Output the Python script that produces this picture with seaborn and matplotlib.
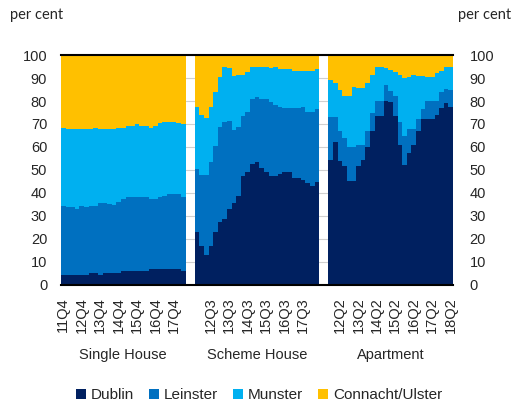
import numpy as np
import pandas as pd
import matplotlib
matplotlib.use("Agg")
import matplotlib.pyplot as plt
from matplotlib.patches import Patch
import seaborn as sns

# quarters shown in every panel
quarters = ["11Q4",
            "12Q1", "12Q2", "12Q3", "12Q4", "13Q1", "13Q2", "13Q3", "13Q4",
            "14Q1", "14Q2", "14Q3", "14Q4", "15Q1", "15Q2", "15Q3", "15Q4",
            "16Q1", "16Q2", "16Q3", "16Q4", "17Q1", "17Q2", "17Q3", "17Q4",
            "18Q1", "18Q2"]
types = ["Single House", "Scheme House", "Apartment"]
regions = ["Dublin", "Leinster", "Munster", "Connacht/Ulster"]
colors = ["#002060", "#0070C0", "#00B0F0", "#FFC000"]

# labelled quarters per panel
ticks_single = ["11Q4", "12Q4", "13Q4", "14Q4", "15Q4", "16Q4", "17Q4"]
ticks_scheme = ["12Q3", "13Q3", "14Q3", "15Q3", "16Q3", "17Q3"]
ticks_apart = ["12Q2", "13Q2", "14Q2", "15Q2", "16Q2", "17Q2", "18Q2"]

# shares (per cent)
single_dublin = [4.1, 4.1, 4.1, 4.1, 4.1, 4.1, 5.1, 5.1, 4.2, 5.1, 5.1, 5.1, 5.1, 5.8,
                 5.8, 5.8, 5.8, 5.8, 5.8, 6.8, 6.8, 6.8, 6.8, 6.8, 6.8, 6.8, 5.8]
single_leinster = [30.4, 29.7, 29.7, 28.8, 30.4, 29.7, 29.4, 29.4, 31.3, 30.4, 29.9, 29.5, 31.1, 31.4,
                   32.2, 32.2, 32.2, 32.2, 32.2, 30.4, 30.4, 31.2, 32.0, 32.9, 32.9, 32.9, 32.2]
single_munster = [33.6, 33.9, 33.9, 34.8, 33.2, 33.9, 33.2, 33.9, 32.2, 32.2, 32.7, 33.1, 32.2, 31.2,
                  31.1, 31.1, 31.9, 31.1, 31.1, 31.2, 31.9, 32.3, 32.2, 31.3, 31.0, 30.6, 32.0]
single_connacht = [31.9, 32.3, 32.3, 32.3, 32.3, 32.3, 32.3, 31.6, 32.3, 32.3, 32.3, 32.3, 31.6, 31.6,
                   30.9, 30.9, 30.1, 30.9, 30.9, 31.6, 30.9, 29.7, 29.0, 29.0, 29.3, 29.7, 30.0]

scheme_dublin = [23.1, 17.1, 12.9, 17.1, 23.1, 27.5, 28.5, 32.8, 35.4, 38.7, 47.4, 49.0, 52.5, 53.3,
                 50.9, 49.1, 47.5, 47.5, 48.1, 49.0, 49.0, 46.4, 46.4, 45.8, 44.1, 43.2, 44.7]
scheme_leinster = [27.5, 30.6, 34.8, 36.4, 37.2, 41.4, 42.3, 38.7, 31.8, 30.2, 25.9, 26.1, 28.4, 28.6,
                   30.0, 31.8, 32.0, 30.8, 29.5, 27.9, 27.9, 30.5, 30.5, 31.8, 31.0, 31.9, 31.9]
scheme_munster = [27.0, 26.0, 24.8, 24.1, 23.5, 21.7, 24.1, 22.9, 23.8, 22.6, 18.2, 17.4, 14.0, 13.0,
                  14.0, 14.0, 14.9, 16.7, 16.3, 17.0, 17.0, 16.3, 16.3, 15.6, 18.1, 18.1, 17.3]
scheme_connacht = [22.4, 26.3, 27.5, 22.4, 16.2, 9.4, 5.1, 5.6, 9.0, 8.5, 8.5, 7.5, 5.1, 5.1,
                   5.1, 5.1, 5.6, 5.0, 6.1, 6.1, 6.1, 6.8, 6.8, 6.8, 6.8, 6.8, 6.1]

apart_dublin = [54.5, 62.0, 54.0, 51.7, 45.0, 45.0, 51.7, 54.2, 60.0, 67.0, 73.4, 73.4, 80.0, 79.5,
                73.3, 61.0, 52.0, 57.4, 61.0, 66.8, 72.3, 72.3, 72.3, 73.7, 77.0, 79.0, 77.6]
apart_leinster = [18.5, 11.0, 13.0, 12.3, 15.0, 15.0, 9.3, 6.8, 7.0, 8.0, 6.8, 6.8, 7.0, 5.0,
                  9.1, 10.0, 12.6, 10.6, 7.0, 5.2, 4.3, 7.7, 7.7, 6.3, 7.0, 6.3, 7.4]
apart_munster = [16.0, 15.0, 18.0, 18.4, 22.4, 26.3, 24.5, 24.5, 20.7, 16.5, 14.7, 14.7, 7.5, 9.1,
                 10.4, 20.5, 25.4, 22.3, 23.5, 18.7, 14.4, 10.5, 10.5, 12.0, 9.2, 9.4, 10.0]
apart_connacht = [11.0, 12.0, 15.0, 17.6, 17.6, 13.7, 14.5, 14.5, 12.3, 8.5, 5.3, 5.3, 5.5, 6.4,
                  7.2, 8.5, 10.0, 9.7, 8.5, 9.3, 9.0, 9.5, 9.5, 8.0, 6.8, 5.3, 5.0]

panels = {
    "Single House": [single_dublin, single_leinster, single_munster, single_connacht],
    "Scheme House": [scheme_dublin, scheme_leinster, scheme_munster, scheme_connacht],
    "Apartment": [apart_dublin, apart_leinster, apart_munster, apart_connacht],
}
panel_ticks = {"Single House": ticks_single, "Scheme House": ticks_scheme, "Apartment": ticks_apart}

# long table with one slot per (type, quarter) and cumulative band tops
rows = []
for t in types:
    shares = np.array(panels[t])
    tops = np.cumsum(shares, axis=0)
    for i, q in enumerate(quarters):
        row = {"type": t, "quarter": q, "slot": f"{t} {q}"}
        for r, reg in enumerate(regions):
            row[reg] = tops[r, i]
        rows.append(row)
df = pd.DataFrame(rows)

# category order, two empty slots between the panels
order = []
for k, t in enumerate(types):
    order += [f"{t} {q}" for q in quarters]
    if k < len(types) - 1:
        order += [f"gap{k}a", f"gap{k}b"]

sns.set_theme(style="white")
plt.rcParams['font.family'] = ['Liberation Sans', 'DejaVu Sans']
fs = 10.5

fig = plt.figure(figsize=(5.13, 4.08), dpi=100)
ax = fig.add_axes([0.119, 0.302, 0.764, 0.563])

# draw tallest band first so lower bands sit on top
for reg, col in reversed(list(zip(regions, colors))):
    sns.barplot(data=df, x="slot", y=reg, order=order, color=col, width=1,
                saturation=1, linewidth=0, errorbar=None, ax=ax)

ax.set_ylim(0, 100)
ax.set_yticks(range(0, 101, 10))
ax.yaxis.grid(True, color="#d0d0d0", lw=0.8)
ax.set_axisbelow(True)
ax.set_xlabel("")
ax.set_ylabel("")

tick_slots, tick_labels = [], []
for t in types:
    for q in panel_ticks[t]:
        tick_slots.append(order.index(f"{t} {q}"))
        tick_labels.append(q)
ax.set_xticks(tick_slots)
ax.set_xticklabels(tick_labels, rotation=90, fontsize=fs)
ax.tick_params(axis="x", length=0, pad=9)
ax.tick_params(axis="y", length=0, pad=10, labelsize=fs)

for s in ["left", "right"]:
    ax.spines[s].set_visible(False)
for s in ["top", "bottom"]:
    ax.spines[s].set_color("black")
    ax.spines[s].set_linewidth(1.5)

ax2 = ax.twinx()
ax2.set_ylim(0, 100)
ax2.set_yticks(range(0, 101, 10))
ax2.tick_params(axis="y", length=0, pad=12, labelsize=fs)
for s in ax2.spines.values():
    s.set_visible(False)

# panel names under the tick labels
for t in types:
    mid = (order.index(f"{t} {quarters[0]}") + order.index(f"{t} {quarters[-1]}")) / 2
    ax.text(mid, -0.305, t, transform=ax.get_xaxis_transform(), ha="center", va="center", fontsize=fs)

fig.text(37 / 513, 1 - 15 / 408, "per cent", ha="center", va="center", fontsize=fs, family="Lato")
fig.text(485 / 513, 1 - 15 / 408, "per cent", ha="center", va="center", fontsize=fs, family="Lato")

handles = [Patch(facecolor=c, edgecolor="none") for c in colors]
fig.legend(handles, regions, loc="center", bbox_to_anchor=(0.505, 1 - 395 / 408), ncol=4,
           frameon=False, fontsize=11, handlelength=0.65, handleheight=0.65,
           handletextpad=0.3, columnspacing=1.0)

fig.savefig("out.png", dpi=100)
